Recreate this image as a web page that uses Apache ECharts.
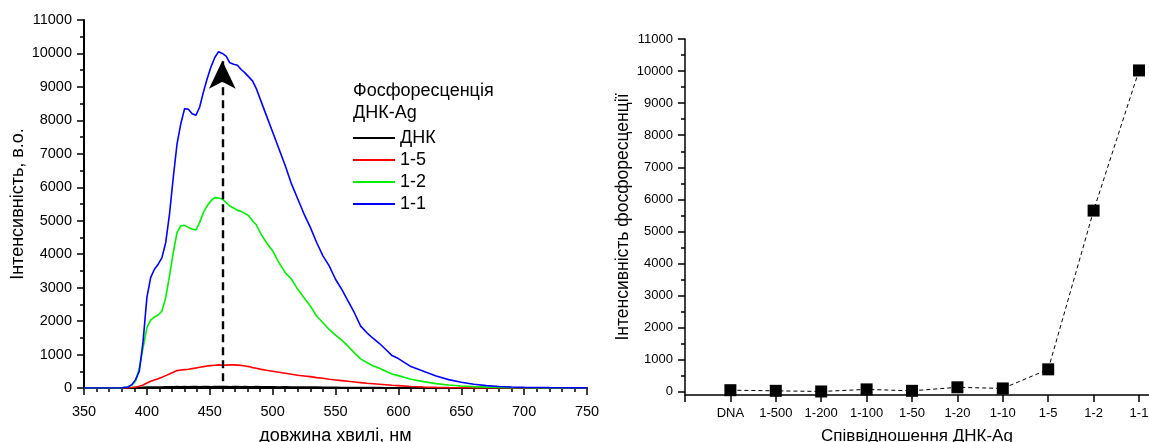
<!DOCTYPE html>
<html>
<head>
<meta charset="utf-8">
<script src="https://cdn.jsdelivr.net/npm/echarts@6/dist/echarts.min.js"></script>
<style>
  html, body { margin: 0; padding: 0; background: #fff; }
  #chart { width: 1149px; height: 442px; }
</style>
</head>
<body>
<div id="chart"></div>
<script>
// Phosphorescence spectra of DNA–Ag complexes (left) and peak intensity vs ratio (right)

const wavelength = [
  350, 360, 370, 380, 385, 388,
  391, 394, 397, 400, 403, 406, 409, 412, 415, 418, 421, 424, 427, 430,
  433, 436, 439, 442, 445, 448, 451, 454, 457, 460, 463, 466, 469, 472,
  475, 478, 481, 484, 487, 490,
  495, 500, 505, 510, 515, 520, 525, 530, 535, 540, 545, 550, 555, 560,
  565, 570, 575, 580, 585, 590, 595, 600,
  610, 620, 630, 640, 650, 660, 670, 680, 690, 700, 710, 720, 730, 740, 750
];

const dnaOnly = [
  0, 0, 0, 0, 5, 10,
  15, 20, 25, 30, 30, 35, 35, 35, 40, 40, 40, 45, 40, 45,
  40, 45, 45, 40, 45, 45, 40, 45, 50, 45, 45, 40, 45, 45,
  40, 45, 40, 40, 45, 40,
  40, 40, 35, 40, 35, 35, 30, 30, 30, 25, 25, 25, 20, 20,
  20, 15, 15, 15, 15, 10, 10, 10,
  10, 5, 5, 5, 5, 0, 0, 0, 0, 0, 0, 0, 0, 0, 0
];

const ratio15 = [
  0, 0, 0, 0, 5, 15,
  30, 50, 90, 150, 200, 240, 280, 320, 370, 420, 470, 520, 540, 550,
  560, 580, 600, 620, 640, 660, 670, 680, 690, 680, 685, 690, 690, 685,
  675, 660, 640, 610, 590, 565,
  530, 500, 470, 440, 410, 380, 360, 340, 310, 290, 260, 240, 220, 200,
  180, 160, 140, 125, 110, 95, 80, 70,
  45, 30, 20, 12, 8, 5, 3, 2, 2, 1, 1, 1, 0, 0, 0
];

const ratio12 = [
  0, 0, 0, 5, 30, 80,
  200, 600, 1200, 1800, 2030, 2120, 2180, 2300, 2700, 3350, 4050, 4650, 4850, 4860,
  4800, 4750, 4720, 4950, 5250, 5450, 5600, 5690, 5680, 5650, 5540, 5440, 5380, 5310,
  5280, 5220, 5150, 5000, 4880, 4650,
  4350, 4100, 3750, 3450, 3250, 2950, 2700, 2450, 2150, 1950, 1750, 1580, 1430, 1250,
  1050, 870, 760, 660, 590, 500, 420, 370,
  260, 190, 130, 90, 60, 40, 25, 15, 10, 8, 5, 5, 3, 2, 2
];

const ratio11 = [
  0, 0, 0, 5, 30, 100,
  250, 500, 1400, 2700, 3300, 3550, 3700, 3900, 4350, 5200, 6300, 7300, 7900, 8350,
  8330, 8200, 8150, 8400, 8850, 9250, 9600, 9880, 10050, 10000, 9920, 9720, 9680, 9650,
  9520, 9420, 9300, 9180, 8950, 8650,
  8150, 7650, 7150, 6650, 6100, 5650, 5200, 4800, 4350, 3950, 3650, 3250, 2950, 2600,
  2250, 1850, 1650, 1480, 1330, 1150, 970, 880,
  640, 500, 360, 250, 170, 110, 70, 45, 30, 20, 15, 10, 8, 5, 5
];

// peak-shift arrow at 460 nm
const arrowX = 460;
const arrowFrom = 200;
const arrowTo = 9780;

const legendTitle = 'Фосфоресценція\nДНК-Ag';
const spectrumNames = ['ДНК', '1-5', '1-2', '1-1'];
const spectrumColors = ['#000000', '#ff0000', '#00ee00', '#0000ff'];

const ratioLabels = ['DNA', '1-500', '1-200', '1-100', '1-50', '1-20', '1-10', '1-5', '1-2', '1-1'];
const ratioValues = [50, 30, 10, 75, 30, 140, 105, 700, 5650, 10020];

const yTicks = [0, 1000, 2000, 3000, 4000, 5000, 6000, 7000, 8000, 9000, 10000, 11000];
const yMinorTicks = [500, 1500, 2500, 3500, 4500, 5500, 6500, 7500, 8500, 9500, 10500];

const FONT = '"Liberation Sans", Arial, sans-serif';

function pairs(xs, ys) {
  return xs.map((x, i) => [x, ys[i]]);
}

const spectra = [dnaOnly, ratio15, ratio12, ratio11];

const chart = echarts.init(document.getElementById('chart'), null, { renderer: 'canvas' });

const axisBase = {
  axisLine: { show: true, lineStyle: { color: '#000', width: 2 } },
  axisTick: { show: true, inside: false, length: 7, lineStyle: { color: '#000', width: 1.5 } },
  minorTick: { show: true, length: 4, lineStyle: { color: '#000', width: 1.5 } },
  splitLine: { show: false },
  axisLabel: { color: '#000', fontFamily: FONT, fontSize: 14.5 },
  nameTextStyle: { color: '#000', fontFamily: FONT, fontSize: 18 }
};

const option = {
  animation: false,
  backgroundColor: '#fff',
  textStyle: { fontFamily: FONT },
  title: {
    text: legendTitle,
    left: 353,
    top: 80,
    padding: 0,
    textStyle: { fontFamily: FONT, fontSize: 18, fontWeight: 'normal', color: '#000', lineHeight: 22 }
  },
  legend: {
    data: spectrumNames,
    orient: 'vertical',
    left: 353,
    top: 129,
    padding: 0,
    icon: 'rect',
    itemWidth: 42,
    itemHeight: 2,
    itemGap: 4,
    textStyle: { fontFamily: FONT, fontSize: 18, color: '#000', lineHeight: 18 }
  },
  grid: [
    { left: 84, top: 20, width: 503, height: 368, outerBoundsMode: 'none', containLabel: false },
    { left: 685, top: 39, right: 0, bottom: 47, outerBoundsMode: 'none', containLabel: false }
  ],
  xAxis: [
    Object.assign({}, axisBase, {
      gridIndex: 0,
      type: 'value',
      min: 350, max: 750, interval: 50,
      minorTick: Object.assign({}, axisBase.minorTick, { splitNumber: 5 }),
      axisLabel: Object.assign({}, axisBase.axisLabel, { margin: 16 }),
      name: 'довжина хвилі, нм',
      nameLocation: 'middle',
      nameGap: 39
    }),
    {
      gridIndex: 1,
      type: 'value',
      min: 0, max: 10.22,
      axisLine: { show: true, onZero: false, lineStyle: { color: '#000', width: 1.5 } },
      axisTick: { show: true, length: 7, customValues: [0, 1, 2, 3, 4, 5, 6, 7, 8, 9, 10], lineStyle: { color: '#000', width: 1.5 } },
      splitLine: { show: false },
      axisLabel: {
        color: '#000', fontFamily: FONT, fontSize: 13, margin: 12,
        customValues: [1, 2, 3, 4, 5, 6, 7, 8, 9, 10],
        formatter: v => ratioLabels[Math.round(v) - 1] || ''
      },
      name: 'Співвідношення ДНК-Ag',
      nameLocation: 'middle',
      nameGap: 33,
      nameTextStyle: { color: '#000', fontFamily: FONT, fontSize: 17 }
    }
  ],
  yAxis: [
    Object.assign({}, axisBase, {
      gridIndex: 0,
      type: 'value',
      min: 0, max: 11000, interval: 1000,
      minorTick: Object.assign({}, axisBase.minorTick, { splitNumber: 2 }),
      axisLabel: Object.assign({}, axisBase.axisLabel, { margin: 12, formatter: v => String(v) }),
      name: 'Інтенсивність, в.о.',
      nameLocation: 'middle',
      nameGap: 57
    }),
    {
      gridIndex: 1,
      type: 'value',
      min: -100, max: 11000,
      axisLine: { show: true, onZero: false, lineStyle: { color: '#000', width: 1.5 } },
      axisTick: { show: true, length: 7, customValues: yTicks, lineStyle: { color: '#000', width: 1.5 } },
      splitLine: { show: false },
      axisLabel: {
        color: '#000', fontFamily: FONT, fontSize: 13, margin: 12,
        customValues: yTicks,
        formatter: v => String(v)
      },
      name: 'Інтенсивність фосфоресценції',
      nameLocation: 'middle',
      nameGap: 53,
      nameTextStyle: { color: '#000', fontFamily: FONT, fontSize: 17.5 }
    },
    {
      // half-step minor ticks for the right-hand value axis
      gridIndex: 1,
      type: 'value',
      min: -100, max: 11000,
      position: 'left',
      axisLine: { show: false },
      axisTick: { show: true, length: 4, customValues: yMinorTicks, lineStyle: { color: '#000', width: 1.5 } },
      axisLabel: { show: false, customValues: yMinorTicks },
      splitLine: { show: false }
    }
  ],
  series: spectra.map((vals, i) => ({
    name: spectrumNames[i],
    type: 'line',
    xAxisIndex: 0,
    yAxisIndex: 0,
    data: pairs(wavelength, vals),
    symbol: 'none',
    smooth: false,
    z: 2 + i,
    lineStyle: { color: spectrumColors[i], width: i === 0 ? 1.3 : 1.6 },
    itemStyle: { color: spectrumColors[i] }
  })).concat([
    {
      name: 'arrow',
      type: 'line',
      xAxisIndex: 0,
      yAxisIndex: 0,
      data: [],
      z: 10,
      markLine: {
        silent: true,
        symbol: ['none', 'arrow'],
        symbolSize: [20, 28],
        label: { show: false },
        lineStyle: { color: '#000', width: 2.4, type: [8, 5] },
        data: [[{ coord: [arrowX, arrowFrom] }, { coord: [arrowX, arrowTo] }]]
      }
    },
    {
      name: 'ratio',
      type: 'line',
      xAxisIndex: 1,
      yAxisIndex: 1,
      data: ratioValues.map((v, i) => [i + 1, v]),
      symbol: 'rect',
      symbolSize: 12,
      itemStyle: { color: '#000' },
      lineStyle: { color: '#000', width: 1, type: [4, 3] }
    }
  ])
};

chart.setOption(option);
</script>
</body>
</html>
